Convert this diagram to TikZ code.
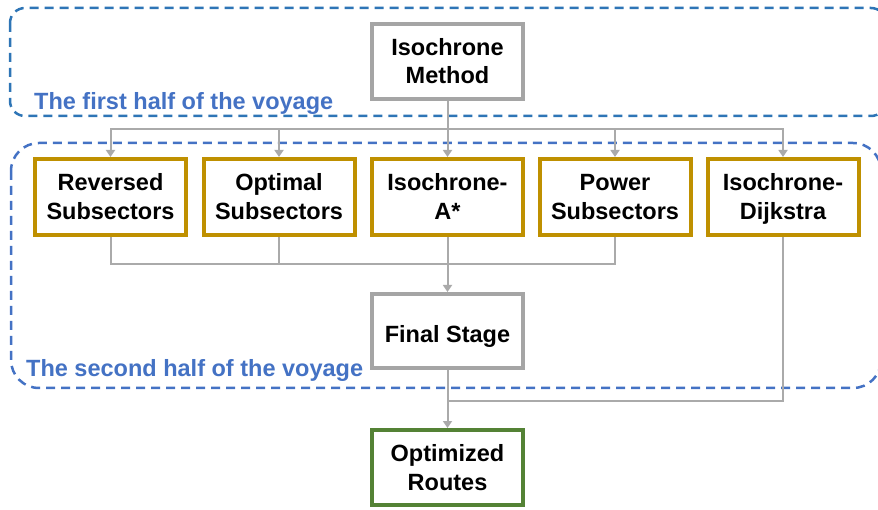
\documentclass[tikz,border=0pt]{standalone}
\usepackage{fontspec}
\setmainfont{Liberation Sans}
\usetikzlibrary{arrows.meta}
\definecolor{boxgray}{HTML}{A5A5A5}
\definecolor{conngray}{HTML}{AAAAAA}
\definecolor{boxgold}{HTML}{BF9000}
\definecolor{routegreen}{HTML}{548235}
\definecolor{blueA}{HTML}{2E75B6}
\definecolor{blueB}{HTML}{4472C4}
\begin{document}
\begin{tikzpicture}[x=1pt,y=-1pt,
  txt/.style={font=\fontsize{23.5}{28.5}\selectfont\bfseries, align=center,
    text height=45.5pt, text depth=0.5pt},
  graybox/.style={txt, draw=boxgray, fill=white, line width=4pt, minimum width=151pt, minimum height=75pt, inner sep=0pt},
  goldbox/.style={graybox, draw=boxgold, minimum height=76pt},
  greenbox/.style={graybox, draw=routegreen},
  conn/.style={draw=conngray, line width=2pt},
  arr/.style={conn, -{Triangle[width=9pt,length=7pt]}},
  region/.style={line width=2.5pt, dash pattern=on 9pt off 6pt},
  lbl/.style={font=\fontsize{23.5}{28.5}\selectfont\bfseries, text=blueB, anchor=base west, inner sep=1pt}]
\useasboundingbox (0,0) rectangle (878,510);
\begin{scope}
  \clip (0,0) rectangle (878,510);
  \draw[region, draw=blueA, rounded corners=15pt] (10,8) rectangle (886,116);
  \draw[region, draw=blueB, rounded corners=28pt] (11,143) rectangle (881,388);
\end{scope}
\node[lbl] (l1) at (33,110) {The first half of the voyage};
\node[lbl, fill=white] (l2) at (25,377) {The second half of the voyage};

\node[graybox] (im) at (447.5,61.5) {Isochrone\\Method};
\node[goldbox] (b1) at (110.5,197) {Reversed\\Subsectors};
\node[goldbox] (b2) at (279,197) {Optimal\\Subsectors};
\node[goldbox] (b3) at (447.5,197) {Isochrone-\\A*};
\node[goldbox] (b4) at (615,197) {Power\\Subsectors};
\node[goldbox] (b5) at (783,197) {Isochrone-\\Dijkstra};
\node[graybox, minimum height=74pt, text height=28pt, text depth=5pt] (fs) at (447.5,331) {Final Stage};
\node[greenbox] (or) at (447.5,467.5) {Optimized\\Routes};

\coordinate (bus1) at (447.5,129);
\coordinate (bus2) at (447.5,264);
\coordinate (bus3) at (447.5,401);

\draw[arr] (im.south) -- (bus1) -| (b1.north);
\draw[arr] (bus1) -| (b2.north);
\draw[arr] (im.south) -- (b3.north);
\draw[arr] (bus1) -| (b4.north);
\draw[arr] (bus1) -| (b5.north);

\draw[conn] (b1.south) |- (bus2);
\draw[conn] (b2.south) |- (bus2);
\draw[conn] (b4.south) |- (bus2);
\draw[arr] (b3.south) -- (fs.north);

\draw[conn] (b5.south) |- (bus3);
\draw[arr] (fs.south) -- (or.north);
\end{tikzpicture}
\end{document}
